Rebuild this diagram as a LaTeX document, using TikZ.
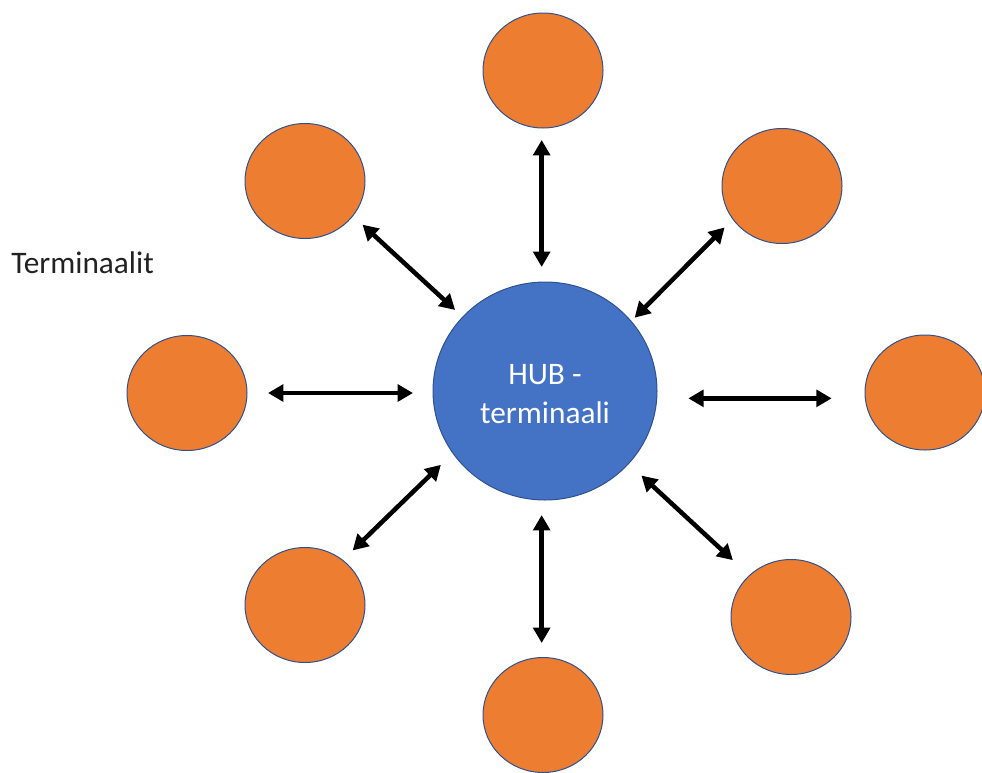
\documentclass[tikz,border=0pt]{standalone}
\usepackage{fontspec}
\setmainfont{Carlito}
\usetikzlibrary{shapes.geometric,arrows.meta}
\definecolor{termfill}{HTML}{ED7D31}
\definecolor{hubfill}{HTML}{4472C4}
\definecolor{shapeline}{HTML}{2F528F}
\definecolor{captiontext}{HTML}{222222}
\tikzset{
  terminal/.style={ellipse, draw=shapeline, line width=0.75pt, fill=termfill,
    minimum width=90pt, minimum height=86.25pt, inner sep=0pt, outer sep=0pt},
  hubnode/.style={ellipse, draw=shapeline, line width=0.75pt, fill=hubfill,
    minimum width=168pt, minimum height=163.5pt, inner sep=0pt, outer sep=0pt},
  hubtext/.style={text=white, align=center, inner sep=0pt,
    font=\fontsize{23.5pt}{29.25pt}\selectfont},
  caption/.style={text=captiontext, inner sep=0pt,
    font=\fontsize{23.5pt}{29.25pt}\selectfont},
  link/.style={{Triangle[length=11.5pt,width=12.5pt]}-{Triangle[length=11.5pt,width=12.5pt]},
    line width=3.4pt},
}
\begin{document}
\begin{tikzpicture}[x=0.75pt,y=-0.75pt]
  \useasboundingbox (0,0) rectangle (982,772);
  \clip (0,0) rectangle (982,772);

  % central hub
  \node[hubnode] (hub) at (545,391) {};
  \node[hubtext] (hublabel) at ([yshift=-2.6pt]hub.center) {HUB -\\terminaali};

  % surrounding terminals
  \node[terminal] (ntop)   at (543,70.5) {};
  \node[terminal] (ntl)    at (305,181)  {};
  \node[terminal] (ntr)    at (782,186)  {};
  \node[terminal] (nleft)  at (187,393)  {};
  \node[terminal] (nright) at (925,392.5) {};
  \node[terminal] (nbl)    at (305,605)  {};
  \node[terminal] (nbot)   at (543,715)  {};
  \node[terminal] (nbr)    at (791,617)  {};

  \node[caption, anchor=base west] (cap) at (11,273) {Terminaalit};

  % two-way links between hub and terminals
  \draw[link, shorten <=11.3pt, shorten >=9pt]
    ([xshift=-1pt]ntop.south |- hub.north) -- ([xshift=-1pt]ntop.south);
  \draw[link, shorten <=11.3pt, shorten >=10.9pt]
    ([xshift=-1pt]nbot.north |- hub.south) -- ([xshift=-1pt]nbot.north);
  \draw[link, shorten <=15pt, shorten >=15.75pt]
    (hub.west |- nleft.east) -- (nleft.east);
  \draw[link, shorten <=23.5pt, shorten >=25pt]
    ([yshift=-5.5pt]hub.east) -- ([yshift=-5.5pt]hub.east -| nright.west);
  \draw[link, shorten <=7.8pt,  shorten >=9.9pt]   (hub.138.1) -- (ntl.324.9);
  \draw[link, shorten <=3.75pt, shorten >=8.85pt]  (hub.39.5)  -- (ntr.214.7);
  \draw[link, shorten <=12.6pt, shorten >=10.5pt]  (hub.214.2) -- (nbl.50.8);
  \draw[link, shorten <=13.2pt, shorten >=16.95pt] (hub.319.4) -- (nbr.135.1);
\end{tikzpicture}
\end{document}
